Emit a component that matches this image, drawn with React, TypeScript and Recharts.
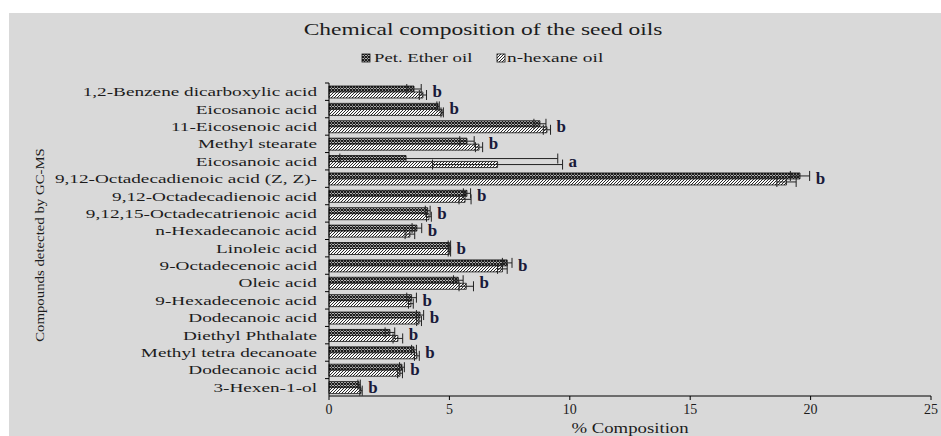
import React from 'react';
import { BarChart, Bar, XAxis, YAxis, ErrorBar, LabelList } from 'recharts';

const categories = [
  '1,2-Benzene dicarboxylic acid',
  'Eicosanoic acid',
  '11-Eicosenoic acid',
  'Methyl stearate',
  'Eicosanoic acid ',
  '9,12-Octadecadienoic acid (Z, Z)-',
  '9,12-Octadecadienoic acid',
  '9,12,15-Octadecatrienoic acid',
  'n-Hexadecanoic acid',
  'Linoleic acid',
  '9-Octadecenoic acid',
  'Oleic acid',
  '9-Hexadecenoic acid',
  'Dodecanoic acid',
  'Diethyl Phthalate',
  'Methyl tetra decanoate',
  'Dodecanoic acid ',
  '3-Hexen-1-ol',
];

const petEther = [3.53, 4.53, 8.76, 5.73, 3.2, 19.56, 5.73, 4.1, 3.65, 5.0, 7.4, 5.37, 3.43, 3.78, 2.53, 3.53, 3.03, 1.25];
const nHexane = [3.9, 4.7, 9.05, 6.23, 7.0, 19.0, 5.65, 4.15, 3.36, 5.0, 7.2, 5.7, 3.4, 3.74, 2.86, 3.65, 2.95, 1.33];
const petErrLow = [0.3, 0.05, 0.25, 0.3, 2.75, 0.4, 0.15, 0.1, 0.2, 0.05, 0.2, 0.2, 0.2, 0.15, 0.2, 0.1, 0.1, 0.05];
const petErrHigh = [0.3, 0.05, 0.25, 0.3, 6.3, 0.4, 0.15, 0.1, 0.2, 0.05, 0.2, 0.2, 0.2, 0.15, 0.2, 0.1, 0.1, 0.05];
const hexErr = [0.15, 0.05, 0.15, 0.15, 2.7, 0.4, 0.25, 0.1, 0.2, 0.05, 0.2, 0.3, 0.1, 0.1, 0.2, 0.1, 0.1, 0.05];
const letters = ['b', 'b', 'b', 'b', 'a', 'b', 'b', 'b', 'b', 'b', 'b', 'b', 'b', 'b', 'b', 'b', 'b', 'b'];
const xTicks = [0, 5, 10, 15, 20, 25];

const data = categories.map((name, i) => ({
  name,
  pet: petEther[i],
  hex: nHexane[i],
  petErr: [petErrLow[i], petErrHigh[i]],
  hexErr: hexErr[i],
}));

const W = 941;
const H = 436;
const MARGIN = { top: 83, right: 10, bottom: 0, left: 0 };
const X_AXIS_H = 40;
const Y_AXIS_W = 329;
const FONT = "'Liberation Serif', 'Times New Roman', serif";
const TEXT = '#1c1c1c';

const bandHalf = (H - MARGIN.top - MARGIN.bottom - X_AXIS_H) / categories.length / 2;

const YTick = (props: any) => {
  const { x, y, payload } = props;
  return (
    <g>
      <line x1={x + 8} x2={x + 12} y1={y - bandHalf} y2={y - bandHalf} stroke="#000" strokeWidth={1} />
      <g transform={`translate(${x},${y})`}>
        <text
          x={0}
          y={0}
          dy={4.5}
          textAnchor="end"
          transform="scale(1.48,1)"
          fontFamily={FONT}
          fontSize={13}
          fill={TEXT}
        >
          {payload.value}
        </text>
      </g>
    </g>
  );
};

const renderLetter = (props: any) => {
  const { x, y, width, height, index } = props;
  const i = index;
  if (i === undefined || i === null) return null;
  const pxPerUnit = width / petEther[i];
  const reach = Math.max(petEther[i] + petErrHigh[i], nHexane[i] + hexErr[i]);
  return (
    <text
      x={x + reach * pxPerUnit + 6}
      y={y + height + 5}
      fontFamily={FONT}
      fontSize={17}
      fontWeight={600}
      fill="#1a1a3a"
    >
      {letters[i]}
    </text>
  );
};

const PatternDefs = ({ suffix }: { suffix: string }) => (
  <defs>
    <pattern id={`petPat${suffix}`} patternUnits="userSpaceOnUse" width="3" height="3">
      <rect width="3" height="3" fill="#f4f4f4" />
      <path d="M0,0 L3,3 M3,0 L0,3" stroke="#111" strokeWidth="1.1" />
    </pattern>
    <pattern id={`hexPat${suffix}`} patternUnits="userSpaceOnUse" width="3" height="3">
      <rect width="3" height="3" fill="#fafafa" />
      <path d="M-1,1 L1,-1 M0,3 L3,0 M2,4 L4,2" stroke="#111" strokeWidth="0.9" />
    </pattern>
  </defs>
);

export default function App() {
  return (
    <div style={{ position: 'absolute', left: 0, top: 0, width: W, height: H, background: '#fff', overflow: 'hidden' }}>
      <div style={{ position: 'absolute', left: 9, top: 13, right: 0, bottom: 0, background: '#d9d9d9' }} />
      <svg width={W} height={H} style={{ position: 'absolute', left: 0, top: 0 }}>
        <PatternDefs suffix="L" />
        <g transform="translate(483,35) scale(1.38,1)">
          <text x={0} y={0} textAnchor="middle" fontFamily={FONT} fontSize={17} fill={TEXT}>
            Chemical composition of the seed oils
          </text>
        </g>
        <rect x={362} y={54} width={8} height={8} fill="url(#petPatL)" stroke="#111" strokeWidth={0.8} />
        <g transform="translate(374,62) scale(1.5,1)">
          <text x={0} y={0} fontFamily={FONT} fontSize={12.5} fill={TEXT}>Pet. Ether oil</text>
        </g>
        <rect x={497} y={54} width={8} height={8} fill="url(#hexPatL)" stroke="#111" strokeWidth={0.8} />
        <g transform="translate(507,62) scale(1.55,1)">
          <text x={0} y={0} fontFamily={FONT} fontSize={12.5} fill={TEXT}>n-hexane oil</text>
        </g>
        <g transform="translate(44,245) rotate(-90) scale(1.14,1)">
          <text x={0} y={0} textAnchor="middle" fontFamily={FONT} fontSize={13} fill={TEXT}>
            Compounds detected by GC-MS
          </text>
        </g>
        <g transform="translate(630,433) scale(1.34,1)">
          <text x={0} y={0} textAnchor="middle" fontFamily={FONT} fontSize={14} fill={TEXT}>
            % Composition
          </text>
        </g>
      </svg>
      <div style={{ position: 'absolute', left: 0, top: 0 }}>
        <BarChart
          width={W}
          height={H}
          data={data}
          layout="vertical"
          margin={MARGIN}
          barSize={6}
          barGap={0}
        >
          <PatternDefs suffix="C" />
          <XAxis
            type="number"
            domain={[0, 25]}
            ticks={xTicks}
            height={X_AXIS_H}
            axisLine={{ stroke: '#000', strokeWidth: 1 }}
            tickLine={{ stroke: '#000', strokeWidth: 1 }}
            tickSize={4}
            tickMargin={4}
            tick={{ fontFamily: FONT, fontSize: 14, fill: TEXT }}
            interval={0}
          />
          <YAxis
            type="category"
            dataKey="name"
            width={Y_AXIS_W}
            axisLine={{ stroke: '#000', strokeWidth: 1 }}
            tickLine={false}
            tickSize={0}
            tickMargin={12}
            tick={<YTick />}
            interval={0}
          />
          <Bar dataKey="pet" name="Pet. Ether oil" fill="url(#petPatC)" stroke="#111" strokeWidth={0.8} isAnimationActive={false}>
            <ErrorBar dataKey="petErr" direction="x" width={5} stroke="#222" strokeWidth={1} />
            <LabelList dataKey="pet" content={renderLetter} />
          </Bar>
          <Bar dataKey="hex" name="n-hexane oil" fill="url(#hexPatC)" stroke="#111" strokeWidth={0.8} isAnimationActive={false}>
            <ErrorBar dataKey="hexErr" direction="x" width={5} stroke="#222" strokeWidth={1} />
          </Bar>
        </BarChart>
      </div>
    </div>
  );
}
